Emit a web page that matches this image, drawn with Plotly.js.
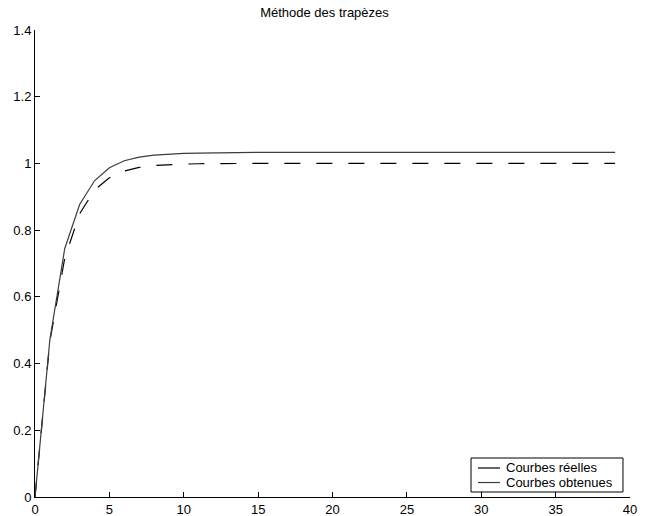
<!DOCTYPE html>
<html>
<head>
<meta charset="utf-8">
<script src="https://cdn.plot.ly/plotly-3.0.1.min.js"></script>
<style>html,body{margin:0;padding:0;background:#fff;}#chart{width:649px;height:516px;}</style>
</head>
<body>
<div id="chart"></div>
<script>
var t = [0,1,2,3,4,5,6,7,8,9,10,11,12,13,14,15,16,17,18,19,20,21,22,23,24,25,26,27,28,29,30,31,32,33,34,35,36,37,38,39];
var reelles = [0,0.467,0.716,0.849,0.920,0.957,0.977,0.988,0.994,0.997,0.998,0.999,1.0,1.0,1.0,1.0,1.0,1.0,1.0,1.0,1.0,1.0,1.0,1.0,1.0,1.0,1.0,1.0,1.0,1.0,1.0,1.0,1.0,1.0,1.0,1.0,1.0,1.0,1.0,1.0];
var obtenues = [0,0.472,0.745,0.877,0.948,0.987,1.008,1.019,1.025,1.028,1.030,1.031,1.032,1.032,1.033,1.033,1.033,1.033,1.033,1.033,1.033,1.033,1.033,1.033,1.033,1.033,1.033,1.033,1.033,1.033,1.033,1.033,1.033,1.033,1.033,1.033,1.033,1.033,1.033,1.033];
var names = ["Courbes réelles", "Courbes obtenues"];
var titleText = "Méthode des trapèzes";
var colors = ["#000000", "#3c3c3c"];

var traces = [
  {x: t, y: reelles, mode: "lines", name: names[0], line: {color: colors[0], width: 1.2, dash: "16px,16px"}},
  {x: t, y: obtenues, mode: "lines", name: names[1], line: {color: colors[1], width: 1.2}}
];
var font = {family: "Liberation Sans, Arial, sans-serif", size: 13, color: "#000"};

// Legend drawn manually (compact MATLAB-style box)
var legX0 = 0.7328, legX1 = 0.9882, legY0 = 0.0107, legY1 = 0.0835;
var entryY = [0.0621, 0.0310];
var sampX0 = 0.7445, sampX1 = 0.7815, textX = 0.7880;
var shapes = [{type: "rect", xref: "paper", yref: "paper", x0: legX0, x1: legX1, y0: legY0, y1: legY1, line: {color: "#000", width: 1}, fillcolor: "#fff", layer: "above"}];
var annotations = [];
for (var i = 0; i < names.length; i++) {
  shapes.push({type: "line", xref: "paper", yref: "paper", x0: sampX0, x1: sampX1, y0: entryY[i], y1: entryY[i], line: {color: colors[i], width: 1.2}, layer: "above"});
  annotations.push({xref: "paper", yref: "paper", x: textX, y: entryY[i], xanchor: "left", yanchor: "middle", text: names[i], showarrow: false, font: font});
}

var layout = {
  width: 649, height: 516,
  margin: {l: 35, r: 19, t: 30, b: 19, pad: 0},
  paper_bgcolor: "#fff", plot_bgcolor: "#fff",
  font: font,
  title: {text: titleText, font: font, x: 0.5, xanchor: "center", y: 0.975, yanchor: "middle"},
  showlegend: false,
  shapes: shapes,
  annotations: annotations,
  xaxis: {range: [0, 40], tickmode: "array", tickvals: [0,5,10,15,20,25,30,35,40], ticks: "inside", ticklen: 5, tickcolor: "#000", showline: true, linecolor: "#000", linewidth: 1, showgrid: false, zeroline: false, mirror: false, tickfont: font},
  yaxis: {range: [0, 1.4], tickmode: "array", tickvals: [0,0.2,0.4,0.6,0.8,1,1.2,1.4], ticktext: ["0","0.2","0.4","0.6","0.8","1","1.2","1.4"], ticks: "inside", ticklen: 5, tickcolor: "#000", showline: true, linecolor: "#000", linewidth: 1, showgrid: false, zeroline: false, mirror: false, tickfont: font}
};
Plotly.newPlot("chart", traces, layout, {displayModeBar: false, staticPlot: true});
</script>
</body>
</html>
